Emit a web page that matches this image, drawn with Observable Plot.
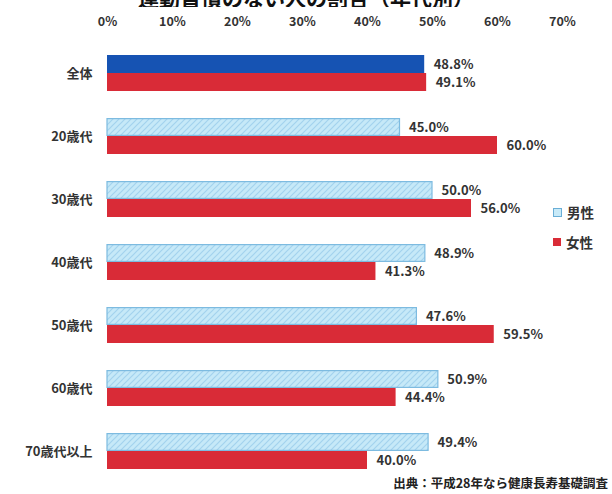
<!DOCTYPE html>
<html>
<head>
<meta charset="utf-8">
<script src="https://cdn.jsdelivr.net/npm/d3@7"></script>
<script src="https://cdn.jsdelivr.net/npm/@observablehq/plot@0.6"></script>
<style>
  html, body { margin: 0; padding: 0; background: #fff; }
  body { width: 612px; height: 494px; position: relative; overflow: hidden;
         font-family: "Noto Sans CJK JP", "Noto Sans", sans-serif; color: #333; }
  #titlebox { position: absolute; left: 0; top: 0; width: 612px; height: 7px; overflow: hidden; z-index: 2; }
  #title { position: absolute; left: 0; width: 612px; top: -11px; text-align: center;
           font-size: 21px; line-height: 17px; font-weight: bold; color: #111; white-space: nowrap; }
  #chart { position: absolute; left: 0; top: 0; }
  #legend { position: absolute; left: 553px; top: 197px; font-size: 13.5px; font-weight: bold; color: #333; }
  #legend div { height: 30px; display: flex; align-items: center; }
  #legend span.sw { display: inline-block; width: 8px; height: 8px; margin-right: 5px; }
  #source { position: absolute; right: 4px; top: 473px; font-size: 12.5px; font-weight: bold; color: #222; }
</style>
</head>
<body>
<div id="titlebox"><div id="title">運動習慣のない人の割合（年代別）</div></div>
<div id="chart"></div>
<div id="legend">
  <div><span class="sw" style="background:#c8eaf8;border:1px solid #6aaed6;width:7px;height:7px"></span>男性</div>
  <div><span class="sw" style="background:#d92b37"></span>女性</div>
</div>
<div id="source">出典：平成28年なら健康長寿基礎調査</div>
<script>
const categories = ["全体", "20歳代", "30歳代", "40歳代", "50歳代", "60歳代", "70歳代以上"];
const maleValues = [48.8, 45.0, 50.0, 48.9, 47.6, 50.9, 49.4];
const femaleValues = [49.1, 60.0, 56.0, 41.3, 59.5, 44.4, 40.0];
const sexes = ["男性", "女性"];
const xTicks = [0, 10, 20, 30, 40, 50, 60, 70];

const data = [];
categories.forEach((c, i) => {
  data.push({category: c, sex: "男性", value: maleValues[i]});
  data.push({category: c, sex: "女性", value: femaleValues[i]});
});

const chart = Plot.plot({
  width: 612,
  height: 474,
  marginLeft: 107,
  marginRight: 50,
  marginTop: 54,
  marginBottom: 4,
  style: {fontFamily: "'Noto Sans CJK JP', 'Noto Sans', sans-serif", fontSize: "13px", fontWeight: "bold", color: "#333", background: "transparent"},
  x: {domain: [0, 70], axis: null},
  y: {domain: sexes, axis: null, padding: 0},
  fy: {domain: categories, paddingInner: 0.43, paddingOuter: 0, axis: null, label: null},
  marks: [
    Plot.axisX({anchor: "top", ticks: xTicks, tickFormat: d => d + "%", tickSize: 0, tickPadding: 30, label: null, fontSize: 12.5, fontWeight: "bold", fill: "#333"}),
    Plot.axisFy({anchor: "left", tickSize: 0, tickPadding: 15, label: null, fontSize: 13, fontWeight: "bold", fill: "#333"}),
    Plot.barX(data.filter(d => d.sex === "女性"), {x: "value", y: "sex", fy: "category", fill: "#d92b37"}),
    Plot.barX(data.filter(d => d.sex === "男性" && d.category !== "全体"), {x: "value", y: "sex", fy: "category", fill: "url(#hatch)", stroke: "#7dbbe0", strokeWidth: 1.2, insetTop: 0.6, insetBottom: 0.6}),
    Plot.barX(data.filter(d => d.sex === "男性" && d.category === "全体"), {x: "value", y: "sex", fy: "category", fill: "#1653b3"}),
    Plot.text(data, {x: "value", y: "sex", fy: "category", text: d => d.value.toFixed(1) + "%", textAnchor: "start", dx: 9, fontSize: 13, fontWeight: "bold", fill: "#333"})
  ]
});

// hatch pattern definition for the light-blue male bars
const ns = "http://www.w3.org/2000/svg";
const svg = chart.tagName.toLowerCase() === "svg" ? chart : chart.querySelector("svg");
const defs = document.createElementNS(ns, "defs");
const pat = document.createElementNS(ns, "pattern");
pat.setAttribute("id", "hatch");
pat.setAttribute("patternUnits", "userSpaceOnUse");
pat.setAttribute("width", "6");
pat.setAttribute("height", "6");
const bg = document.createElementNS(ns, "rect");
bg.setAttribute("width", "6"); bg.setAttribute("height", "6"); bg.setAttribute("fill", "#c6e9f8");
const ln = document.createElementNS(ns, "path");
ln.setAttribute("d", "M0,6 L6,0 M-1,1 L1,-1 M5,7 L7,5");
ln.setAttribute("stroke", "#a3d3ee"); ln.setAttribute("stroke-width", "1.2");
pat.appendChild(bg); pat.appendChild(ln);
defs.appendChild(pat);
svg.insertBefore(defs, svg.firstChild);

document.getElementById("chart").appendChild(chart);
</script>
</body>
</html>
